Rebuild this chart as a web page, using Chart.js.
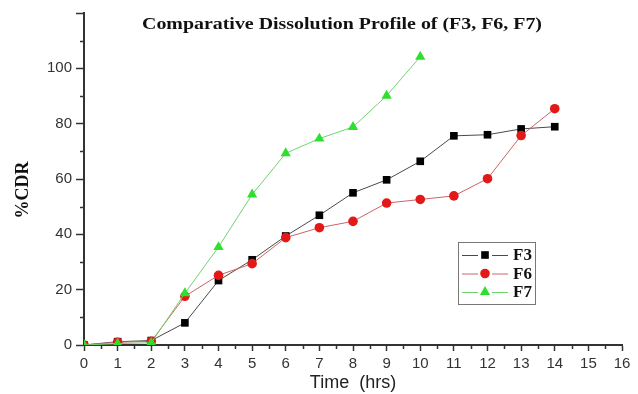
<!DOCTYPE html>
<html>
<head>
<meta charset="utf-8">
<title>Comparative Dissolution Profile</title>
<script src="https://cdn.jsdelivr.net/npm/chart.js@4.4.1/dist/chart.umd.min.js"></script>
<style>
  html, body { margin: 0; padding: 0; background: #fff; overflow: hidden; }
  #wrap { width: 638px; height: 394px; position: relative; }
</style>
</head>
<body>
<div id="wrap"><canvas id="c"></canvas></div>
<script>
// Sampling times (hrs)
const hours = [0, 1, 2, 3, 4, 5, 6, 7, 8, 9, 10, 11, 12, 13, 14];
// Cumulative drug release (%) per formulation
const f3 = [0, 1.2, 1.6, 8.0, 23.3, 30.8, 39.4, 46.9, 55.0, 59.7, 66.4, 75.6, 76.0, 78.1, 78.9];
const f6 = [0, 1.0, 1.3, 17.6, 25.2, 29.4, 38.8, 42.4, 44.7, 51.3, 52.6, 53.9, 60.1, 75.7, 85.4];
const f7 = [0, 0.5, 0.8, 18.7, 35.4, 54.4, 69.3, 74.6, 78.8, 90.1, 104.2];
const seriesNames = ['F3', 'F6', 'F7'];
// Axis ticks
const xTicks = [0, 1, 2, 3, 4, 5, 6, 7, 8, 9, 10, 11, 12, 13, 14, 15, 16];
const yTicks = [0, 20, 40, 60, 80, 100, 120];
const xMinor = [0.5, 1.5, 2.5, 3.5, 4.5, 5.5, 6.5, 7.5, 8.5, 9.5, 10.5, 11.5, 12.5, 13.5, 14.5, 15.5];
const yMinor = [10, 30, 50, 70, 90, 110];
const chartTitle = 'Comparative Dissolution Profile of (F3, F6, F7)';
const yTitle = '%CDR';

const axisColor = '#333';
const serif = '"Liberation Serif", "Times New Roman", serif';
const tickFont = { family: '"Liberation Sans", Arial, sans-serif', size: 15 };

const toPoints = vals => vals.map((v, i) => ({ x: hours[i], y: v }));

// Minor tick marks, heading, y-axis title and the legend box
const extrasPlugin = {
  id: 'extras',
  afterDraw(chart) {
    const ctx = chart.ctx;
    const xs = chart.scales.x, ys = chart.scales.y;
    const area = chart.chartArea;
    ctx.save();
    ctx.strokeStyle = axisColor;
    ctx.lineWidth = 1.5;
    ctx.beginPath();
    xMinor.forEach(v => {
      const px = Math.round(xs.getPixelForValue(v)) + 0.5;
      ctx.moveTo(px, area.bottom);
      ctx.lineTo(px, area.bottom + 4);
    });
    yMinor.forEach(v => {
      const py = Math.round(ys.getPixelForValue(v)) + 0.5;
      ctx.moveTo(area.left - 4, py);
      ctx.lineTo(area.left, py);
    });
    ctx.stroke();
    ctx.restore();

    // Heading
    ctx.save();
    ctx.font = 'bold 17px ' + serif;
    ctx.fillStyle = '#111';
    ctx.textBaseline = 'middle';
    ctx.textAlign = 'center';
    const w = ctx.measureText(chartTitle).width;
    ctx.translate(342, 25);
    ctx.scale(400 / w, 1);
    ctx.fillText(chartTitle, 0, 0);
    ctx.restore();

    // Vertical axis title
    ctx.save();
    ctx.font = 'bold 18px ' + serif;
    ctx.fillStyle = '#111';
    ctx.textBaseline = 'middle';
    ctx.textAlign = 'center';
    ctx.translate(23, 190);
    ctx.rotate(-Math.PI / 2);
    ctx.fillText(yTitle, 0, 0);
    ctx.restore();

    // Legend box inside the plot
    const box = { x: 458, y: 242, w: 77, h: 62 };
    ctx.save();
    ctx.fillStyle = '#fff';
    ctx.fillRect(box.x, box.y, box.w, box.h);
    ctx.strokeStyle = '#777';
    ctx.lineWidth = 1;
    ctx.strokeRect(box.x + 0.5, box.y + 0.5, box.w, box.h);
    chart.data.datasets.forEach((ds, i) => {
      const y = box.y + 13 + i * 18.5;
      ctx.strokeStyle = ds.borderColor;
      ctx.lineWidth = 1;
      ctx.beginPath();
      ctx.moveTo(box.x + 4, y + 0.5);
      ctx.lineTo(box.x + 20, y + 0.5);
      ctx.moveTo(box.x + 34, y + 0.5);
      ctx.lineTo(box.x + 50, y + 0.5);
      ctx.stroke();
      ctx.fillStyle = ds.pointBackgroundColor;
      ctx.strokeStyle = ds.pointBackgroundColor;
      Chart.helpers.drawPoint(ctx, {
        pointStyle: ds.pointStyle, radius: ds.pointRadius, rotation: 0, borderWidth: 0
      }, box.x + 27, y);
      ctx.fillStyle = '#111';
      ctx.font = 'bold 17px ' + serif;
      ctx.textAlign = 'left';
      ctx.textBaseline = 'middle';
      ctx.fillText(ds.label, box.x + 55, y + 1);
    });
    ctx.restore();
  }
};

new Chart(document.getElementById('c'), {
  type: 'line',
  data: {
    datasets: [
      {
        label: seriesNames[0], data: toPoints(f3), order: 2,
        borderColor: '#4a4a4a', borderWidth: 1,
        pointStyle: 'rect', pointRadius: 5.4,
        pointBackgroundColor: '#000', pointBorderColor: '#000', pointBorderWidth: 0,
        tension: 0, clip: 0
      },
      {
        label: seriesNames[1], data: toPoints(f6), order: 1,
        borderColor: '#cc6464', borderWidth: 1,
        pointStyle: 'circle', pointRadius: 4.8,
        pointBackgroundColor: '#e31818', pointBorderColor: '#e31818', pointBorderWidth: 0,
        tension: 0, clip: 0
      },
      {
        label: seriesNames[2], data: toPoints(f7), order: 0,
        borderColor: '#6fd46f', borderWidth: 1,
        pointStyle: 'triangle', pointRadius: 5.9,
        pointBackgroundColor: '#2de02d', pointBorderColor: '#2de02d', pointBorderWidth: 0,
        tension: 0, clip: 0
      }
    ]
  },
  options: {
    responsive: true,
    maintainAspectRatio: false,
    animation: false,
    layout: { padding: { left: 0, right: 16, top: 10, bottom: 0 } },
    plugins: { legend: { display: false }, tooltip: { enabled: false }, title: { display: false } },
    scales: {
      x: {
        type: 'linear', min: 0, max: 16,
        afterBuildTicks: s => { s.ticks = xTicks.map(v => ({ value: v })); },
        afterFit: s => { s.height = 49; },
        ticks: { font: tickFont, color: axisColor, padding: 4, maxRotation: 0, autoSkip: false },
        grid: { drawOnChartArea: false, drawTicks: true, tickLength: 6, tickColor: axisColor, tickWidth: 1.5 },
        border: { display: true, color: axisColor, width: 2 },
        title: {
          display: true, text: 'Time  (hrs)', color: '#222',
          font: { family: '"Liberation Sans", Arial, sans-serif', size: 18 },
          padding: { top: 1, bottom: 0 }
        }
      },
      y: {
        type: 'linear', min: 0, max: 120,
        afterBuildTicks: s => { s.ticks = yTicks.map(v => ({ value: v })); },
        afterFit: s => { s.width = 84; },
        ticks: { font: tickFont, color: axisColor, padding: 4, callback: v => (v === 120 ? '' : v) },
        grid: { drawOnChartArea: false, drawTicks: true, tickLength: 8, tickColor: axisColor, tickWidth: 1.5 },
        border: { display: true, color: axisColor, width: 2 },
        title: { display: false }
      }
    }
  },
  plugins: [extrasPlugin]
});
</script>
</body>
</html>
